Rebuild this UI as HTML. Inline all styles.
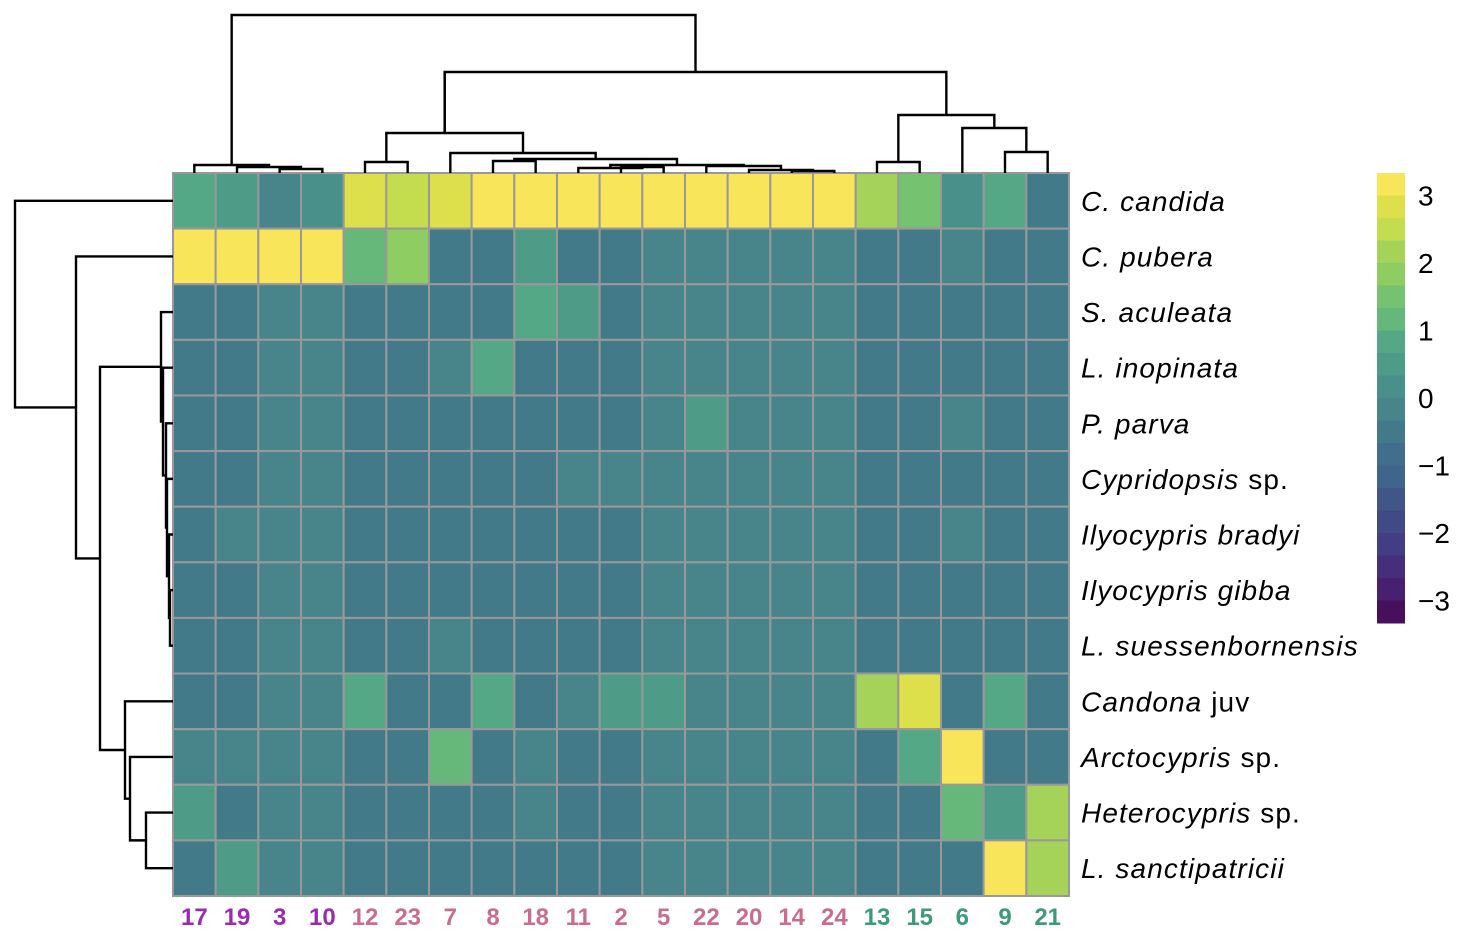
<!DOCTYPE html>
<html><head><meta charset="utf-8"><style>
body{margin:0;background:#fff;}
svg{display:block;font-family:"Liberation Sans",sans-serif;}
</style></head><body>
<svg id="chart" width="1466" height="939" xmlns="http://www.w3.org/2000/svg">
<g id="cells"></g>
<g id="dendro" stroke="#000" stroke-width="2.4" fill="none"></g>
<g id="labels"></g>
<g id="legend"></g>
</svg>
<script>
const columns = ["17","19","3","10","12","23","7","8","18","11","2","5","22","20","14","24","13","15","6","9","21"];
const columnGroups = [0,0,0,0,1,1,1,1,1,1,1,1,1,1,1,1,2,2,2,2,2];
const rows = ["C. candida","C. pubera","S. aculeata","L. inopinata","P. parva","Cypridopsis sp.","Ilyocypris bradyi","Ilyocypris gibba","L. suessenbornensis","Candona juv","Arctocypris sp.","Heterocypris sp.","L. sanctipatricii"];
const values = [
[0.8,0.5,-0.2,0.2,2.8,2.5,2.8,3.2,3.2,3.2,3.2,3.2,3.2,3.2,3.2,3.2,2.2,1.5,0.2,0.8,-0.5],
[3.2,3.2,3.2,3.2,1.2,1.8,-0.5,-0.5,0.5,-0.5,-0.5,-0.2,-0.2,-0.2,-0.2,-0.2,-0.5,-0.5,-0.2,-0.5,-0.5],
[-0.5,-0.5,-0.2,-0.2,-0.5,-0.5,-0.5,-0.5,0.8,0.5,-0.5,-0.2,-0.2,-0.2,-0.2,-0.2,-0.5,-0.5,-0.5,-0.5,-0.5],
[-0.5,-0.5,-0.2,-0.2,-0.5,-0.5,-0.2,0.8,-0.5,-0.5,-0.5,-0.2,-0.2,-0.2,-0.2,-0.2,-0.5,-0.5,-0.5,-0.5,-0.5],
[-0.5,-0.5,-0.2,-0.2,-0.5,-0.5,-0.5,-0.5,-0.5,-0.5,-0.5,-0.2,0.5,-0.2,-0.2,-0.2,-0.5,-0.5,-0.2,-0.5,-0.5],
[-0.5,-0.5,-0.2,-0.2,-0.5,-0.5,-0.5,-0.5,-0.5,-0.2,-0.2,-0.2,-0.2,-0.2,-0.2,-0.2,-0.5,-0.5,-0.5,-0.5,-0.5],
[-0.5,-0.2,-0.2,-0.2,-0.5,-0.5,-0.5,-0.5,-0.5,-0.5,-0.5,-0.2,-0.2,-0.2,-0.2,-0.2,-0.5,-0.5,-0.2,-0.5,-0.5],
[-0.5,-0.5,-0.2,-0.2,-0.5,-0.5,-0.5,-0.5,-0.5,-0.5,-0.5,-0.2,-0.2,-0.2,-0.2,-0.2,-0.5,-0.5,-0.5,-0.5,-0.5],
[-0.5,-0.5,-0.2,-0.2,-0.5,-0.5,-0.2,-0.5,-0.5,-0.5,-0.5,-0.2,-0.2,-0.2,-0.2,-0.2,-0.5,-0.5,-0.5,-0.5,-0.5],
[-0.5,-0.5,-0.2,-0.2,0.8,-0.5,-0.5,0.8,-0.5,-0.2,0.5,0.5,-0.2,-0.2,-0.2,-0.2,2.2,2.8,-0.5,0.8,-0.5],
[-0.2,-0.2,-0.2,-0.2,-0.5,-0.5,1.2,-0.5,-0.2,-0.5,-0.5,-0.2,-0.2,-0.2,-0.2,-0.2,-0.5,0.8,3.2,-0.5,-0.5],
[0.5,-0.5,-0.2,-0.2,-0.5,-0.5,-0.5,-0.5,-0.2,-0.5,-0.5,-0.2,-0.2,-0.2,-0.2,-0.2,-0.5,-0.5,1.2,0.5,2.2],
[-0.5,0.5,-0.2,-0.2,-0.5,-0.5,-0.5,-0.5,-0.5,-0.5,-0.5,-0.2,-0.2,-0.2,-0.2,-0.2,-0.5,-0.5,-0.5,3.2,2.2]
];
const legendTicks = [3,2,1,0,-1,-2,-3];
const palette = ["#f9e55a","#dde04b","#c3dd4f","#a5d35a","#8ecd62","#75c370","#65b77a","#55a885","#4e9c88","#4a908a","#47858a","#437a8a","#416e8b","#3f658c","#405689","#404a87","#433d83","#452f7d","#472070","#46105a"];
const groupColors = ["#9a2bb0","#c86e8c","#3d9a77"];
const NS="http://www.w3.org/2000/svg";
const x0=173,y0=173,W=896,H=723,cw=W/columns.length,rh=H/rows.length;
const vmax=10/3, step=(2*vmax)/palette.length;
function colorOf(v){let i=Math.floor((vmax-v)/step);i=Math.max(0,Math.min(palette.length-1,i));return palette[i];}
function el(tag,attrs,parent){const e=document.createElementNS(NS,tag);for(const k in attrs)e.setAttribute(k,attrs[k]);parent.appendChild(e);return e;}
const cells=document.getElementById('cells');
values.forEach((row,r)=>row.forEach((v,c)=>{
  const e=el('rect',{x:x0+c*cw,y:y0+r*rh,width:cw,height:rh,fill:colorOf(v),stroke:'#999',"stroke-width":2},cells);
  
  
}));
const labels=document.getElementById('labels');
rows.forEach((n,r)=>{
  const t=el('text',{x:1081,y:y0+(r+0.5)*rh+10,"font-size":28,"letter-spacing":"1.1",fill:'#000'},labels);
  
  
  const m=n.match(/^(.*?)( sp\.| juv)?$/);
  const a=el('tspan',{"font-style":"italic"},t);a.textContent=m[1];
  if(m[2]){const b=el('tspan',{},t);b.textContent=m[2];}
});
columns.forEach((n,c)=>{
  const t=el('text',{x:x0+(c+0.5)*cw,y:925,"font-size":24,"font-weight":"bold","text-anchor":"middle",fill:groupColors[columnGroups[c]]},labels);
  
  
  t.textContent=n;
});
const lg=document.getElementById('legend');
const ly0=173,lh=450,lx=1377,lw=28;
palette.forEach((p,i)=>{
  const e=el('rect',{x:lx,y:ly0+i*lh/palette.length,width:lw,height:lh/palette.length+0.5,fill:p},lg);
  
  
});
legendTicks.forEach(v=>{
  const y=ly0+(vmax-v)/(2*vmax)*lh;
  const t=el('text',{x:1418,y:y+10,"font-size":28,fill:'#000'},lg);
  
  
  t.textContent=(v<0?'\u2212'+(-v):String(v));
});
const dg=document.getElementById('dendro');
function cx(i){return x0+(i+0.5)*cw;}
function ry(i){return y0+(i+0.5)*rh;}
function path(d,name){const p=el('path',{d:d},dg);}
function tnode(xl,xr,y,bl,br){path(`M${xl},${bl}V${y}H${xr}V${br}`,'column-dendrogram-branch');}
const B=173;
tnode(cx(2),cx(3),169,B,B);
tnode(cx(1),(cx(2)+cx(3))/2,167,B,169);
tnode(cx(0),(cx(1)+cx(2.5))/2,165,B,167);
tnode(cx(4),cx(5),162,B,B);
tnode(cx(7),cx(8),161,B,B);
tnode(cx(10),cx(11),167,B,B);
tnode(cx(9),(cx(10)+cx(11))/2,168,B,167);
tnode(cx(14),cx(15),171,B,B);
tnode(cx(13),(cx(14)+cx(15))/2,170,B,171);
tnode(cx(12),(cx(13)+cx(14.5))/2,166,B,170);
const n1=(cx(9)+(cx(10)+cx(11))/2)/2, n2=(cx(12)+(cx(13)+cx(14.5))/2)/2;
tnode(n1,n2,165,168,166);
const n3=(n1+n2)/2, n4=(cx(7)+cx(8))/2;
tnode(n4,n3,159,161,165);
const n5=(n4+n3)/2;
tnode(cx(6),n5,153,B,159);
const n6=(cx(6)+n5)/2;
tnode(cx(4.5),n6,133,162,153);
tnode(cx(16),cx(17),162,B,B);
tnode(cx(19),cx(20),152,B,B);
tnode(cx(18),cx(19.5),128,B,152);
tnode(cx(16.5),(cx(18)+cx(19.5))/2,115,162,128);
const n7=(cx(4.5)+n6)/2-10, n8=(cx(16.5)+(cx(18)+cx(19.5))/2)/2;
tnode(n7,n8,72,133,115);
path(`M${n7},133V72`,'column-dendrogram-branch');
const n9=(cx(0)+(cx(1)+cx(2.5))/2)/2;
tnode(n9,(n7+n8)/2,15,165,72);
function lnode(yt,yb,x,rt,rb){path(`M${rt},${yt}H${x}V${yb}H${rb}`,'row-dendrogram-branch');}
const R=173;
lnode(ry(7),ry(8),170,R,R);
lnode(ry(6),(ry(7)+ry(8))/2,169,R,170);
lnode(ry(5),(ry(6)+ry(7.5))/2,167,R,169);
const a5=(ry(5)+(ry(6)+ry(7.5))/2)/2;
lnode(ry(4),a5,166,R,167);
const a4=(ry(4)+a5)/2;
lnode(ry(3),a4,163,R,166);
const a3=(ry(3)+a4)/2;
lnode(ry(2),a3,161,R,163);
const a2=(ry(2)+a3)/2;
lnode(ry(11),ry(12),146,R,R);
lnode(ry(10),ry(11.5),130,R,146);
const b1=(ry(10)+ry(11.5))/2;
lnode(ry(9),b1,125,R,130);
const b2=(ry(9)+b1)/2;
lnode(a2,b2,100,161,125);
const c1=(a2+b2)/2;
lnode(ry(1),c1,76,R,100);
lnode(ry(0),(ry(1)+c1)/2,15,R,76);
</script>
</body></html>
